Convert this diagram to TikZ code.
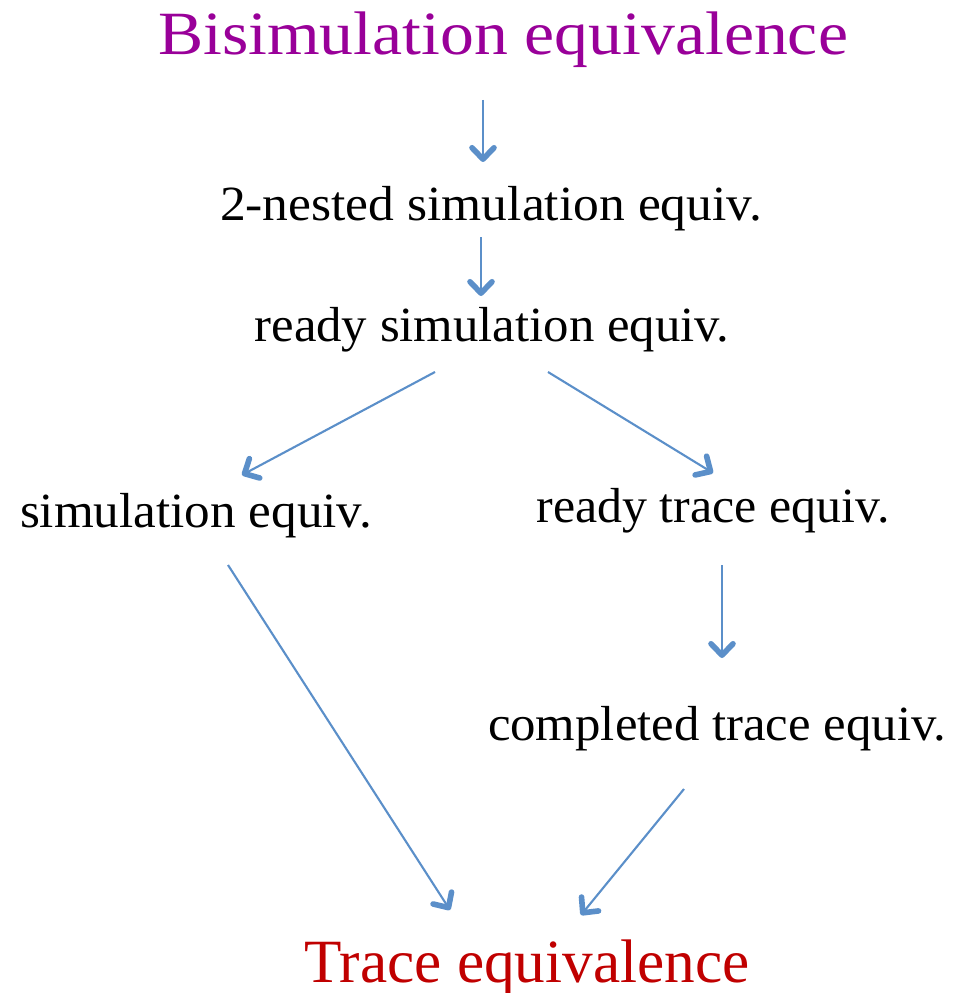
\documentclass[tikz,border=0pt]{standalone}
\usepackage{fontspec}
\setmainfont{Liberation Serif}
\usetikzlibrary{arrows.meta,calc}
\definecolor{titlepurple}{HTML}{990099}
\definecolor{titlered}{HTML}{C00000}
\definecolor{arrowblue}{HTML}{5B8FC9}
\newcommand{\fitw}[2]{\resizebox{#1}{\height}{#2}}
\begin{document}
\begin{tikzpicture}[x=0.02cm,y=-0.02cm,
  lbl/.style={anchor=base,inner sep=0pt,font=\fontsize{28}{30}\selectfont},
  big/.style={anchor=base,inner sep=0pt,font=\fontsize{35}{38}\selectfont},
  arr/.style={draw=arrowblue,line width=1.2pt,
    -{Straight Barb[length=6.5pt,width=12.5pt,line width=3.2pt,round]}}]
\useasboundingbox (0,0) rectangle (956,993);
\node[big,text=titlepurple] (bisim) at (503,55) {\fitw{13.8cm}{Bisimulation equivalence}};
\node[lbl] (nested) at (491,220) {\fitw{10.84cm}{2-nested simulation equiv.}};
\node[lbl] (ready) at (492,341) {\fitw{9.5cm}{ready simulation equiv.}};
\node[lbl] (sim) at (196,527) {\fitw{7.04cm}{simulation equiv.}};
\node[lbl] (rtrace) at (713,522) {\fitw{7.06cm}{ready trace equiv.}};
\node[lbl] (comp) at (717,740) {\fitw{9.16cm}{completed trace equiv.}};
\node[big,text=titlered] (trace) at (527,982) {\fitw{8.9cm}{Trace equivalence}};
\draw[arr] ($(bisim.base)+(-20,45)$) -- ($(nested.base)+(-8,-58)$);
\draw[arr] ($(nested.base)+(-10,17)$) -- ($(ready.base)+(-11,-45)$);
\draw[arr] ($(ready.base)+(-57,31)$) -- ($(sim.base)+(46,-52)$);
\draw[arr] ($(ready.base)+(56,31)$) -- ($(rtrace.base)+(0,-49)$);
\draw[arr] ($(sim.base)+(32,38)$) -- ($(trace.base)+(-77,-72)$);
\draw[arr] ($(rtrace.base)+(9,43)$) -- ($(comp.base)+(5,-82)$);
\draw[arr] ($(comp.base)+(-33,49)$) -- ($(trace.base)+(54,-67)$);
\end{tikzpicture}
\end{document}
